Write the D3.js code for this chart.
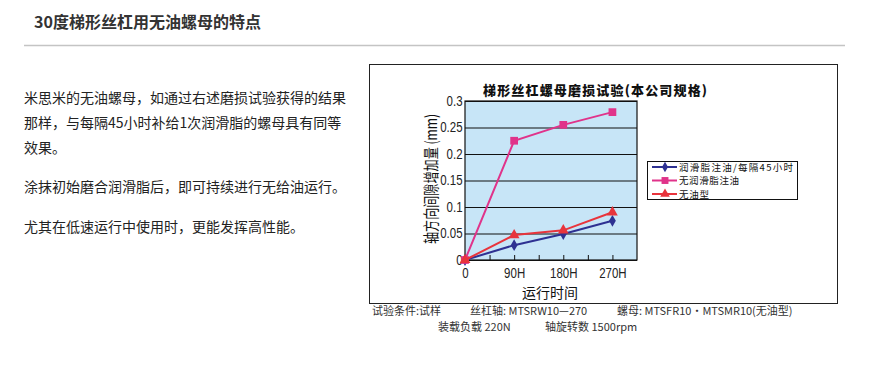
<!DOCTYPE html>
<html>
<head>
<meta charset="utf-8">
<script src="https://cdn.jsdelivr.net/npm/d3@7"></script>
<style>
  body { margin: 0; background: #fff; }
  svg { display: block; }
  .cjk { font-family: "Noto Sans CJK SC", "DejaVu Sans", sans-serif; }
  .narrow { font-family: "Liberation Sans", Arial, sans-serif; }
</style>
</head>
<body>
<svg id="chart" width="893" height="373"></svg>
<script>
// data
var categories = [0, 90, 180, 270];
var xTickLabels = ["0", "90H", "180H", "270H"];
var yTicks = [0, 0.05, 0.1, 0.15, 0.2, 0.25, 0.3];
var yTickLabels = ["0", "0.05", "0.1", "0.15", "0.2", "0.25", "0.3"];
var seriesNames = ["润滑脂注油/每隔45小时", "无润滑脂注油", "无油型"];
var greasedValues = [0, 0.028, 0.049, 0.074];
var noGreaseValues = [0, 0.225, 0.255, 0.279];
var oilFreeValues = [0, 0.047, 0.056, 0.090];

var paragraphs = [
  ["米思米的无油螺母，如通过右述磨损试验获得的结果", "那样，与每隔45小时补给1次润滑脂的螺母具有同等", "效果。"],
  ["涂抹初始磨合润滑脂后，即可持续进行无给油运行。"],
  ["尤其在低速运行中使用时，更能发挥高性能。"]
];

var svg = d3.select("#chart");

/*
 * Nadpis stranky a ciara
 */
svg.append("text").attr("class", "cjk")
  .attr("x", 34).attr("y", 28)
  .attr("font-size", 16).attr("font-weight", "bold").attr("fill", "#333")
  .text("30度梯形丝杠用无油螺母的特点");
svg.append("line")
  .attr("x1", 24).attr("x2", 845).attr("y1", 45.5).attr("y2", 45.5)
  .attr("stroke", "#c4c4c4").attr("stroke-width", 1.5);

/*
 * Text vlavo
 */
var lineY = [103, 128, 153, 192, 232];
var k = 0;
paragraphs.forEach(function (p) {
  p.forEach(function (line) {
    svg.append("text").attr("class", "cjk")
      .attr("x", 24).attr("y", lineY[k++])
      .attr("font-size", 14).attr("fill", "#222")
      .text(line);
  });
});

/*
 * Ramik grafu
 */
svg.append("rect")
  .attr("x", 369.5).attr("y", 64.5).attr("width", 468).attr("height", 239)
  .attr("fill", "#fff").attr("stroke", "#222");

svg.append("text").attr("class", "cjk")
  .attr("x", 483).attr("y", 95)
  .attr("font-size", 13).attr("font-weight", "900").attr("fill", "#111")
  .attr("textLength", 224).attr("lengthAdjust", "spacing")
  .text("梯形丝杠螺母磨损试验(本公司规格)");

var margin = {left: 465, top: 101},
    width = 172, height = 159;

var x = d3.scaleLinear().domain([0, 315]).range([0, width]);
var y = d3.scaleLinear().domain([0, 0.3]).range([height, 0]);

var g = svg.append("g").attr("transform", "translate(" + margin.left + "," + margin.top + ")");

g.append("rect").attr("width", width).attr("height", height).attr("fill", "#c7e5f7");

// gridlines
g.append("g")
  .call(d3.axisLeft(y).tickValues(yTicks).tickSize(-width).tickFormat(""))
  .call(function (a) { a.select(".domain").remove(); })
  .selectAll("line").attr("stroke", "#111").attr("stroke-width", 1.2);

// small x ticks inside
g.append("g")
  .attr("transform", "translate(0," + height + ")")
  .call(d3.axisTop(x).tickValues([45, 90, 135, 180, 225, 270]).tickSize(5).tickFormat(""))
  .call(function (a) { a.select(".domain").remove(); })
  .selectAll("line").attr("stroke", "#111");

g.append("rect").attr("width", width).attr("height", height)
  .attr("fill", "none").attr("stroke", "#111").attr("stroke-width", 1.2);

// tick labels (squeezed like a narrow face)
var yAxis = g.append("g")
  .call(d3.axisLeft(y).tickValues(yTicks).tickSize(0).tickPadding(3)
    .tickFormat(function (d, i) { return yTickLabels[i]; }));
yAxis.select(".domain").remove();
yAxis.selectAll("text").attr("class", "narrow").attr("font-size", 14).attr("fill", "#222")
  .attr("transform", "scale(0.82,1)");

var xAxis = g.append("g")
  .attr("transform", "translate(0," + height + ")")
  .call(d3.axisBottom(x).tickValues(categories).tickSize(0).tickPadding(8)
    .tickFormat(function (d, i) { return xTickLabels[i]; }));
xAxis.select(".domain").remove();
xAxis.selectAll("text").attr("class", "narrow").attr("font-size", 14).attr("fill", "#222")
  .attr("transform", "scale(0.82,1)");

// axis titles
svg.append("text").attr("class", "cjk")
  .attr("transform", "translate(437,179) rotate(-90)")
  .attr("text-anchor", "middle").attr("font-size", 16).attr("fill", "#111")
  .attr("textLength", 130).attr("lengthAdjust", "spacingAndGlyphs")
  .text("轴方向间隙增加量 (mm)");
svg.append("text").attr("class", "cjk")
  .attr("x", 550).attr("y", 298).attr("text-anchor", "middle")
  .attr("font-size", 14).attr("fill", "#111")
  .text("运行时间");

/*
 * Ciary a znacky
 */
var series = [
  {name: seriesNames[0], values: greasedValues, color: "#2e3192", marker: d3.symbolDiamond, size: 40, len: 114},
  {name: seriesNames[1], values: noGreaseValues, color: "#e0338a", marker: d3.symbolSquare, size: 60, len: 60},
  {name: seriesNames[2], values: oilFreeValues, color: "#e8343c", marker: d3.symbolTriangle, size: 50, len: 30}
];

var line = d3.line()
  .x(function (d, i) { return x(categories[i]); })
  .y(function (d) { return y(d); });

series.forEach(function (s) {
  g.append("path").datum(s.values)
    .attr("d", line).attr("fill", "none")
    .attr("stroke", s.color).attr("stroke-width", 2);
  g.selectAll(null).data(s.values).enter().append("path")
    .attr("transform", function (d, i) { return "translate(" + x(categories[i]) + "," + y(d) + ")"; })
    .attr("d", d3.symbol().type(s.marker).size(s.size))
    .attr("fill", s.color);
});

/*
 * Legenda
 */
var legend = svg.append("g");
legend.append("rect")
  .attr("x", 647.5).attr("y", 161.5).attr("width", 150).attr("height", 38)
  .attr("fill", "#fff").attr("stroke", "#111");
var rowY = [167, 180.5, 194];
series.forEach(function (s, i) {
  legend.append("line")
    .attr("x1", 652).attr("x2", 677).attr("y1", rowY[i]).attr("y2", rowY[i])
    .attr("stroke", s.color).attr("stroke-width", 2);
  legend.append("path")
    .attr("transform", "translate(665," + rowY[i] + ")")
    .attr("d", d3.symbol().type(s.marker).size(s.size * 0.8))
    .attr("fill", s.color);
  legend.append("text").attr("class", "cjk")
    .attr("x", 679).attr("y", rowY[i] + 3.5)
    .attr("font-size", 9.5).attr("fill", "#111")
    .attr("textLength", s.len).attr("lengthAdjust", "spacing")
    .text(s.name);
});

/*
 * Poznamky pod grafom
 */
var notes = [
  {x: 372, y: 315, t: "试验条件:试样"},
  {x: 470, y: 315, t: "丝杠轴: MTSRW10—270"},
  {x: 617, y: 315, t: "螺母: MTSFR10・MTSMR10(无油型)"},
  {x: 438, y: 331, t: "装载负载 220N"},
  {x: 545, y: 331, t: "轴旋转数 1500rpm"}
];
svg.selectAll(null).data(notes).enter().append("text")
  .attr("class", "cjk")
  .attr("x", function (d) { return d.x; }).attr("y", function (d) { return d.y; })
  .attr("font-size", 11).attr("fill", "#333")
  .text(function (d) { return d.t; });
</script>
</body>
</html>
